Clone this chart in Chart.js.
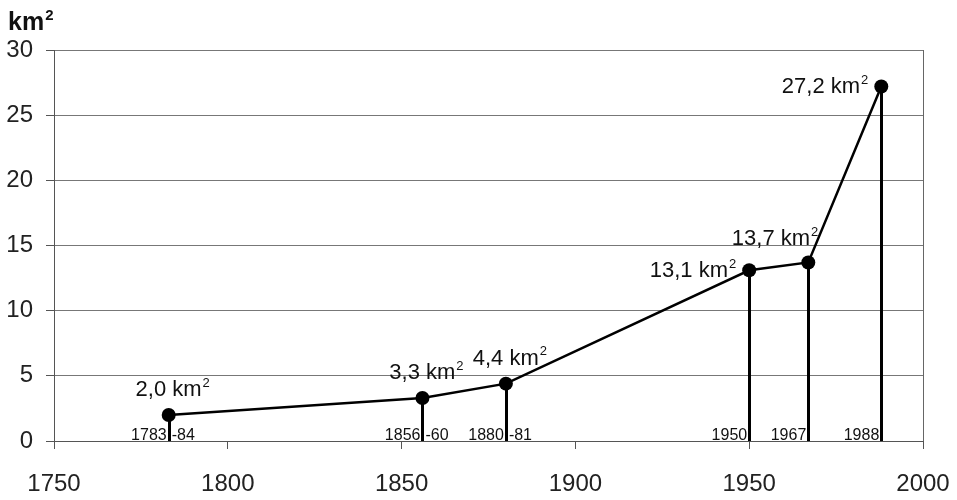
<!DOCTYPE html>
<html>
<head>
<meta charset="utf-8">
<script src="https://cdn.jsdelivr.net/npm/chart.js@4"></script>
<style>
    html, body { margin: 0; padding: 0; background: #fff; }
    #wrap { width: 957px; height: 500px; }
</style>
</head>
<body>
<div id="wrap"><canvas id="areaChart" width="957" height="500"></canvas></div>
<script>
'use strict';

// data
var surveyYears = [1783, 1856, 1880, 1950, 1967, 1988];
var areaKm2 = [2.0, 3.3, 4.4, 13.1, 13.7, 27.2];
var periodStart = ['1783', '1856', '1880', '1950', '1967', '1988'];
var periodEnd = ['-84', '-60', '-81', '', '', ''];
var xTicks = [1750, 1800, 1850, 1900, 1950, 2000];
var yTicks = [0, 5, 10, 15, 20, 25, 30];

var FONT = "'Liberation Sans', Arial, sans-serif";

// where each value label sits relative to its point
var labelPlace = ['above', 'above', 'above', 'left', 'aboveLeft', 'left'];

function fmt(v) {
    return v.toFixed(1).replace('.', ',');
}

function drawKm2(ctx, text, x, y, align, size, bold) {
    var w = bold ? 'bold ' : '';
    ctx.font = w + size + 'px ' + FONT;
    var mainW = ctx.measureText(text).width;
    var supSize = Math.round(size * 0.6);
    ctx.font = w + supSize + 'px ' + FONT;
    var supW = ctx.measureText('2').width;
    var total = mainW + supW + 1;
    var start = x;
    if (align === 'center') start = x - total / 2;
    if (align === 'right') start = x - total;
    ctx.textAlign = 'left';
    ctx.textBaseline = 'alphabetic';
    ctx.font = w + size + 'px ' + FONT;
    ctx.fillText(text, start, y);
    ctx.font = w + supSize + 'px ' + FONT;
    ctx.fillText('2', start + mainW + 1, y - size * 0.42);
}

var dropLines = {
    id: 'dropLines',
    beforeDatasetsDraw: function(chart) {
        var ctx = chart.ctx;
        var xs = chart.scales.x, ys = chart.scales.y;
        ctx.save();
        ctx.strokeStyle = '#000';
        ctx.lineWidth = 3;
        surveyYears.forEach(function(yr, i) {
            var px = Math.round(xs.getPixelForValue(yr)) + 0.5;
            ctx.beginPath();
            ctx.moveTo(px, ys.getPixelForValue(areaKm2[i]));
            ctx.lineTo(px, ys.getPixelForValue(0));
            ctx.stroke();
        });
        ctx.restore();
    },
    afterDatasetsDraw: function(chart) {
        var ctx = chart.ctx;
        var xs = chart.scales.x, ys = chart.scales.y;
        ctx.save();
        ctx.fillStyle = '#111';
        var base = ys.getPixelForValue(0) - 1;
        surveyYears.forEach(function(yr, i) {
            var px = xs.getPixelForValue(yr);
            var py = ys.getPixelForValue(areaKm2[i]);
            var txt = fmt(areaKm2[i]) + ' km';
            if (labelPlace[i] === 'above') {
                drawKm2(ctx, txt, px + 4, py - 19, 'center', 22, false);
            } else if (labelPlace[i] === 'aboveLeft') {
                drawKm2(ctx, txt, px + 10, py - 17, 'right', 22, false);
            } else {
                drawKm2(ctx, txt, px - 13, py + 7, 'right', 22, false);
            }
            // period labels at the foot of each drop line
            ctx.font = '16px ' + FONT;
            ctx.textBaseline = 'alphabetic';
            ctx.textAlign = 'right';
            ctx.fillText(periodStart[i], px - 2, base);
            if (periodEnd[i]) {
                ctx.textAlign = 'left';
                ctx.fillText(periodEnd[i], px + 3, base);
            }
        });
        // unit above the y axis
        drawKm2(ctx, 'km', 8, 30, 'left', 25, true);
        ctx.restore();
    }
};

var points = surveyYears.map(function(yr, i) {
    return { x: yr, y: areaKm2[i] };
});

new Chart(document.getElementById('areaChart'), {
    type: 'scatter',
    data: {
        datasets: [{
            data: points,
            showLine: true,
            borderColor: '#000',
            borderWidth: 2.5,
            backgroundColor: '#000',
            pointRadius: 7,
            pointHoverRadius: 7,
            pointBackgroundColor: '#000',
            pointBorderWidth: 0
        }]
    },
    options: {
        responsive: false,
        devicePixelRatio: 1,
        animation: false,
        layout: { padding: { top: 50, right: 34, left: 0, bottom: 0 } },
        plugins: {
            legend: { display: false },
            tooltip: { enabled: false }
        },
        scales: {
            x: {
                type: 'linear',
                min: xTicks[0],
                max: xTicks[xTicks.length - 1],
                afterBuildTicks: function(scale) {
                    scale.ticks = xTicks.map(function(v) { return { value: v }; });
                },
                afterFit: function(scale) {
                    scale.height = 59;
                    scale.paddingRight = 0;
                },
                grid: {
                    drawOnChartArea: true,
                    color: function(c) { return c.tick && c.tick.value === 2000 ? '#666' : 'rgba(0,0,0,0)'; },
                    tickColor: '#555',
                    tickLength: 8,
                    lineWidth: 1
                },
                border: { color: '#555', width: 1 },
                ticks: {
                    color: '#222',
                    padding: 21,
                    maxRotation: 0,
                    font: { family: FONT, size: 24 },
                    callback: function(v) { return String(v); }
                }
            },
            y: {
                min: yTicks[0],
                max: yTicks[yTicks.length - 1],
                afterBuildTicks: function(scale) {
                    scale.ticks = yTicks.map(function(v) { return { value: v }; });
                },
                afterFit: function(scale) { scale.width = 54; },
                grid: {
                    color: '#777',
                    tickColor: '#555',
                    tickLength: 8,
                    lineWidth: 1
                },
                border: { color: '#555', width: 1 },
                ticks: {
                    color: '#222',
                    padding: 13,
                    font: { family: FONT, size: 24 }
                }
            }
        }
    },
    plugins: [dropLines]
});
</script>
</body>
</html>
